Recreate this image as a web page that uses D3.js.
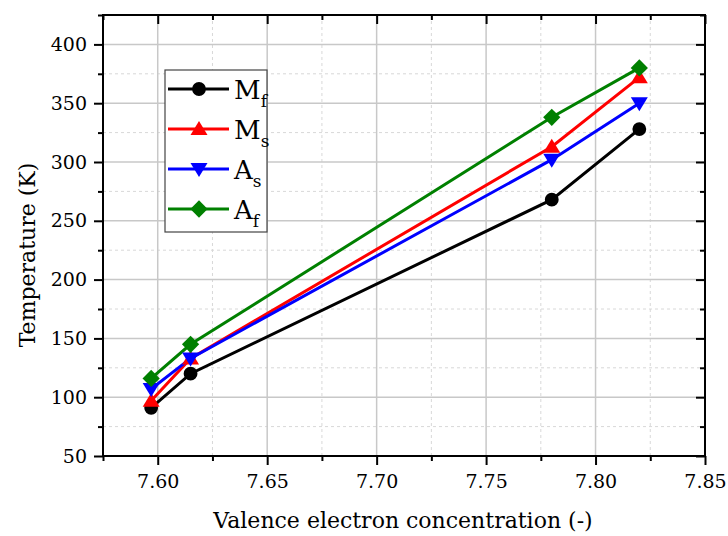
<!DOCTYPE html>
<html>
<head>
<meta charset="utf-8">
<script src="https://cdn.jsdelivr.net/npm/d3@7"></script>
<style>
  body { margin: 0; background: #fff; }
</style>
</head>
<body>
<svg width="728" height="536"></svg>
<script>
// Data
const vec = [7.597, 7.615, 7.78, 7.82];
const mf = [91, 120, 268, 328];
const ms = [97, 133, 313, 372];
const as = [107, 133, 302, 350];
const af = [116, 145, 338, 380];

const xTicks = [7.60, 7.65, 7.70, 7.75, 7.80, 7.85];
const yTicks = [50, 100, 150, 200, 250, 300, 350, 400];

const serif = "DejaVu Serif";

const series = [
  { name: "M", sub: "f", values: mf, color: "#000000", symbol: d3.symbolCircle },
  { name: "M", sub: "s", values: ms, color: "#ff0000", symbol: "up" },
  { name: "A", sub: "s", values: as, color: "#0000ff", symbol: "down" },
  { name: "A", sub: "f", values: af, color: "#008000", symbol: d3.symbolDiamond2 }
];

const margin = { top: 15, right: 23, bottom: 80, left: 103 },
      width = 728 - margin.left - margin.right,
      height = 536 - margin.top - margin.bottom;

const svg = d3.select("svg")
  .attr("font-family", serif)
  .append("g")
    .attr("transform", `translate(${margin.left},${margin.top})`);

const x = d3.scaleLinear().domain([7.575, 7.85]).range([0, width]);
const y = d3.scaleLinear().domain([50, 425]).range([height, 0]);

// minor ticks at half steps
const xMinor = xTicks.map(d => d + 0.025).filter(d => d < 7.85).concat([7.575]);
const yMinor = yTicks.map(d => d + 25);

// grid
svg.append("g").selectAll("line")
  .data(xMinor)
  .join("line")
    .attr("x1", d => x(d)).attr("x2", d => x(d))
    .attr("y1", 0).attr("y2", height)
    .attr("stroke", "#d8d8d8").attr("stroke-dasharray", "3,3");
svg.append("g").selectAll("line")
  .data(yMinor)
  .join("line")
    .attr("y1", d => y(d)).attr("y2", d => y(d))
    .attr("x1", 0).attr("x2", width)
    .attr("stroke", "#d8d8d8").attr("stroke-dasharray", "3,3");
svg.append("g").selectAll("line")
  .data(xTicks)
  .join("line")
    .attr("x1", d => x(d)).attr("x2", d => x(d))
    .attr("y1", 0).attr("y2", height)
    .attr("stroke", "#c8c8c8").attr("stroke-width", 1.5);
svg.append("g").selectAll("line")
  .data(yTicks)
  .join("line")
    .attr("y1", d => y(d)).attr("y2", d => y(d))
    .attr("x1", 0).attr("x2", width)
    .attr("stroke", "#c8c8c8").attr("stroke-width", 1.5);

// axes
function styleAxis(g) {
  g.attr("font-family", serif);
  g.selectAll(".domain").remove();
  g.selectAll("line").attr("stroke", "#000").attr("stroke-width", 2);
  g.selectAll("text").attr("font-size", 19).attr("fill", "#000");
}

svg.append("g")
  .attr("transform", `translate(0,${height})`)
  .call(d3.axisBottom(x).tickValues(xTicks).tickFormat(d3.format(".2f")).tickSize(9).tickPadding(10))
  .call(styleAxis);
svg.append("g")
  .attr("transform", `translate(0,${height})`)
  .call(d3.axisBottom(x).tickValues(xMinor).tickFormat("").tickSize(5))
  .call(styleAxis);

svg.append("g")
  .call(d3.axisLeft(y).tickValues(yTicks).tickSize(9).tickPadding(7))
  .call(styleAxis);
svg.append("g")
  .call(d3.axisLeft(y).tickValues(yMinor).tickFormat("").tickSize(5))
  .call(styleAxis);

// top and right: ticks pointing inward, no labels
svg.append("g")
  .call(d3.axisBottom(x).tickValues(xTicks).tickFormat("").tickSize(9))
  .call(styleAxis);
svg.append("g")
  .call(d3.axisBottom(x).tickValues(xMinor).tickFormat("").tickSize(5))
  .call(styleAxis);
svg.append("g")
  .attr("transform", `translate(${width},0)`)
  .call(d3.axisLeft(y).tickValues(yTicks).tickFormat("").tickSize(9))
  .call(styleAxis);
svg.append("g")
  .attr("transform", `translate(${width},0)`)
  .call(d3.axisLeft(y).tickValues(yMinor).tickFormat("").tickSize(5))
  .call(styleAxis);

// frame
svg.append("rect")
  .attr("width", width).attr("height", height)
  .attr("fill", "none").attr("stroke", "#000").attr("stroke-width", 2);

// marker drawing
function marker(sym) {
  if (sym === "up") return "M0,-8L8.5,6L-8.5,6Z";
  if (sym === "down") return "M0,8L8.5,-6L-8.5,-6Z";
  return d3.symbol().type(sym).size(sym === d3.symbolCircle ? 150 : 190)();
}

const line = d3.line()
  .x((d, i) => x(vec[i]))
  .y(d => y(d));

series.forEach(s => {
  svg.append("path")
    .datum(s.values)
    .attr("fill", "none")
    .attr("stroke", s.color)
    .attr("stroke-width", 3)
    .attr("d", line);
});
series.forEach(s => {
  svg.append("g").selectAll("path")
    .data(s.values)
    .join("path")
      .attr("transform", (d, i) => `translate(${x(vec[i])},${y(d)})`)
      .attr("d", marker(s.symbol))
      .attr("fill", s.color);
});

// legend
const legend = svg.append("g")
  .attr("transform", `translate(${165 - margin.left},${70 - margin.top})`);
legend.append("rect")
  .attr("width", 102).attr("height", 162)
  .attr("fill", "#fff").attr("stroke", "#444").attr("stroke-width", 1.2);

const items = legend.selectAll("g.item")
  .data(series)
  .join("g")
    .attr("class", "item")
    .attr("transform", (d, i) => `translate(0,${19 + i * 40})`);
items.append("line")
  .attr("x1", 3).attr("x2", 64)
  .attr("stroke", d => d.color).attr("stroke-width", 3);
items.append("path")
  .attr("transform", "translate(34,0)")
  .attr("d", d => marker(d.symbol))
  .attr("fill", d => d.color);
const lt = items.append("text")
  .attr("x", 69).attr("y", 10)
  .attr("font-size", 26).attr("fill", "#000");
lt.append("tspan").text(d => d.name);
lt.append("tspan").attr("dy", 8).attr("font-size", 17).text(d => d.sub);

// axis titles
svg.append("text")
  .attr("x", width / 2 - 1)
  .attr("y", height + 72)
  .attr("text-anchor", "middle")
  .attr("font-size", 22)
  .text("Valence electron concentration (-)");

svg.append("text")
  .attr("transform", "rotate(-90)")
  .attr("x", -240)
  .attr("y", -68)
  .attr("text-anchor", "middle")
  .attr("font-size", 22)
  .text("Temperature (K)");
</script>
</body>
</html>
